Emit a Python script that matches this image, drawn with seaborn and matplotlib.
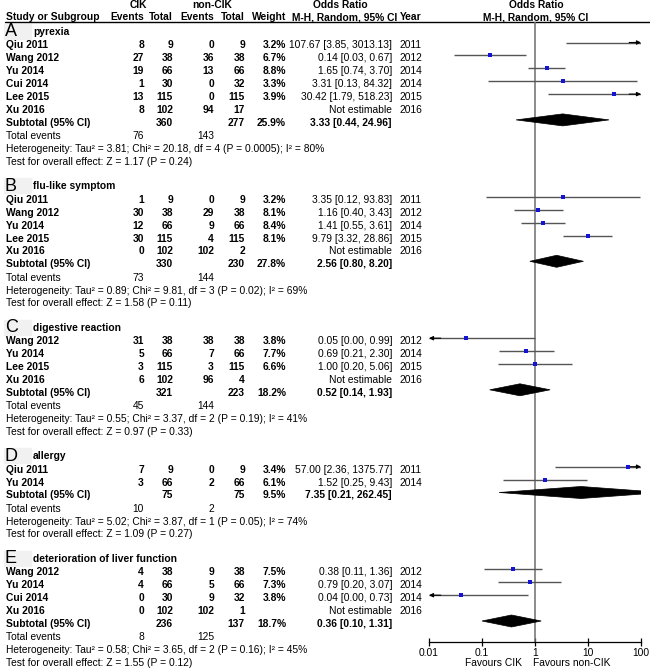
import matplotlib
matplotlib.use("Agg")
import matplotlib.pyplot as plt
from matplotlib.patches import Polygon, Rectangle
import pandas as pd
import seaborn as sns

# ---------------- data ----------------
letters = ["A", "B", "C", "D", "E"]
titles = ["pyrexia", "flu-like symptom", "digestive reaction", "allergy",
          "deterioration of liver function"]

A_study = ["Qiu 2011", "Wang 2012", "Yu 2014", "Cui 2014", "Lee 2015", "Xu 2016"]
A_ev1 = [8, 27, 19, 1, 13, 8]
A_tot1 = [9, 38, 66, 30, 115, 102]
A_ev2 = [0, 36, 13, 0, 0, 94]
A_tot2 = [9, 38, 66, 32, 115, 17]
A_weight = ["3.2%", "6.7%", "8.8%", "3.3%", "3.9%", ""]
A_or = [107.67, 0.14, 1.65, 3.31, 30.42, None]
A_lo = [3.85, 0.03, 0.74, 0.13, 1.79, None]
A_hi = [3013.13, 0.67, 3.70, 84.32, 518.23, None]
A_year = [2011, 2012, 2014, 2014, 2015, 2016]
A_sub = [360, 277, "25.9%", 3.33, 0.44, 24.96]
A_events = [76, 143]
A_het = "Heterogeneity: Tau\u00b2 = 3.81; Chi\u00b2 = 20.18, df = 4 (P = 0.0005); I\u00b2 = 80%"
A_test = "Test for overall effect: Z = 1.17 (P = 0.24)"

B_study = ["Qiu 2011", "Wang 2012", "Yu 2014", "Lee 2015", "Xu 2016"]
B_ev1 = [1, 30, 12, 30, 0]
B_tot1 = [9, 38, 66, 115, 102]
B_ev2 = [0, 29, 9, 4, 102]
B_tot2 = [9, 38, 66, 115, 2]
B_weight = ["3.2%", "8.1%", "8.4%", "8.1%", ""]
B_or = [3.35, 1.16, 1.41, 9.79, None]
B_lo = [0.12, 0.40, 0.55, 3.32, None]
B_hi = [93.83, 3.43, 3.61, 28.86, None]
B_year = [2011, 2012, 2014, 2015, 2016]
B_sub = [330, 230, "27.8%", 2.56, 0.80, 8.20]
B_events = [73, 144]
B_het = "Heterogeneity: Tau\u00b2 = 0.89; Chi\u00b2 = 9.81, df = 3 (P = 0.02); I\u00b2 = 69%"
B_test = "Test for overall effect: Z = 1.58 (P = 0.11)"

C_study = ["Wang 2012", "Yu 2014", "Lee 2015", "Xu 2016"]
C_ev1 = [31, 5, 3, 6]
C_tot1 = [38, 66, 115, 102]
C_ev2 = [38, 7, 3, 96]
C_tot2 = [38, 66, 115, 4]
C_weight = ["3.8%", "7.7%", "6.6%", ""]
C_or = [0.05, 0.69, 1.00, None]
C_lo = [0.00, 0.21, 0.20, None]
C_hi = [0.99, 2.30, 5.06, None]
C_year = [2012, 2014, 2015, 2016]
C_sub = [321, 223, "18.2%", 0.52, 0.14, 1.93]
C_events = [45, 144]
C_het = "Heterogeneity: Tau\u00b2 = 0.55; Chi\u00b2 = 3.37, df = 2 (P = 0.19); I\u00b2 = 41%"
C_test = "Test for overall effect: Z = 0.97 (P = 0.33)"

D_study = ["Qiu 2011", "Yu 2014"]
D_ev1 = [7, 3]
D_tot1 = [9, 66]
D_ev2 = [0, 2]
D_tot2 = [9, 66]
D_weight = ["3.4%", "6.1%"]
D_or = [57.00, 1.52]
D_lo = [2.36, 0.25]
D_hi = [1375.77, 9.43]
D_year = [2011, 2014]
D_sub = [75, 75, "9.5%", 7.35, 0.21, 262.45]
D_events = [10, 2]
D_het = "Heterogeneity: Tau\u00b2 = 5.02; Chi\u00b2 = 3.87, df = 1 (P = 0.05); I\u00b2 = 74%"
D_test = "Test for overall effect: Z = 1.09 (P = 0.27)"

E_study = ["Wang 2012", "Yu 2014", "Cui 2014", "Xu 2016"]
E_ev1 = [4, 4, 0, 0]
E_tot1 = [38, 66, 30, 102]
E_ev2 = [9, 5, 9, 102]
E_tot2 = [38, 66, 32, 1]
E_weight = ["7.5%", "7.3%", "3.8%", ""]
E_or = [0.38, 0.79, 0.04, None]
E_lo = [0.11, 0.20, 0.00, None]
E_hi = [1.36, 3.07, 0.73, None]
E_year = [2012, 2014, 2014, 2016]
E_sub = [236, 137, "18.7%", 0.36, 0.10, 1.31]
E_events = [8, 125]
E_het = "Heterogeneity: Tau\u00b2 = 0.58; Chi\u00b2 = 3.65, df = 2 (P = 0.16); I\u00b2 = 45%"
E_test = "Test for overall effect: Z = 1.55 (P = 0.12)"

tick_values = [0.01, 0.1, 1, 10, 100]
tick_labels = ["0.01", "0.1", "1", "10", "100"]

sections = []
for L, t, g in zip(letters, titles,
                   [(A_study, A_ev1, A_tot1, A_ev2, A_tot2, A_weight, A_or, A_lo, A_hi, A_year, A_sub, A_events, A_het, A_test),
                    (B_study, B_ev1, B_tot1, B_ev2, B_tot2, B_weight, B_or, B_lo, B_hi, B_year, B_sub, B_events, B_het, B_test),
                    (C_study, C_ev1, C_tot1, C_ev2, C_tot2, C_weight, C_or, C_lo, C_hi, C_year, C_sub, C_events, C_het, C_test),
                    (D_study, D_ev1, D_tot1, D_ev2, D_tot2, D_weight, D_or, D_lo, D_hi, D_year, D_sub, D_events, D_het, D_test),
                    (E_study, E_ev1, E_tot1, E_ev2, E_tot2, E_weight, E_or, E_lo, E_hi, E_year, E_sub, E_events, E_het, E_test)]):
    keys = ["study", "ev1", "tot1", "ev2", "tot2", "weight", "or", "lo", "hi", "year", "sub", "events", "het", "test"]
    d = dict(zip(keys, g))
    d["letter"] = L
    d["title"] = t
    sections.append(d)

# ---------------- style ----------------
sns.set_theme(style="white")
plt.rcParams["font.family"] = ["Liberation Sans", "DejaVu Sans"]
FS = 7.4
W, H = 650, 671

fig = plt.figure(figsize=(6.5, 6.71), dpi=100)
tab = fig.add_axes([0, 0, 1, 1])
tab.set_xlim(0, W)
tab.set_ylim(H, 0)
tab.axis("off")

# forest axes (x: log OR, y: same pixel rows as table)
FX0, FX1, FY0, FY1 = 429, 641, 22, 642
fa = fig.add_axes([FX0 / W, (H - FY1) / H, (FX1 - FX0) / W, (FY1 - FY0) / H])
fa.set_xscale("log")
fa.set_xlim(0.01, 100)
fa.set_ylim(FY1, FY0)
fa.patch.set_alpha(0)
for s in ["top", "left", "right"]:
    fa.spines[s].set_visible(False)
fa.spines["bottom"].set_color("black")
fa.spines["bottom"].set_linewidth(0.9)
fa.set_xticks(tick_values)
fa.set_xticklabels(tick_labels, fontsize=FS)
fa.minorticks_off()
fa.tick_params(axis="x", direction="inout", length=6, width=0.9, pad=1.5, colors="black", bottom=True)
fa.set_yticks([])
fa.axvline(1, color="#6e6e6e", lw=1.1, zorder=1)


def txt(x, y, s, ha="left", bold=False, size=FS, **kw):
    tab.text(x, y, s, ha=ha, va="center", fontsize=size,
             fontweight="bold" if bold else "normal", color="black", **kw)


# headers
txt(138, 5, "CIK", ha="center", bold=True)
txt(212, 5, "non-CIK", ha="center", bold=True)
txt(340, 5, "Odds Ratio", ha="center", bold=True)
txt(536, 5, "Odds Ratio", ha="center", bold=True)
txt(6, 17, "Study or Subgroup", bold=True)
txt(144, 17, "Events", ha="right", bold=True)
txt(173, 17, "Total", ha="right", bold=True)
txt(214, 17, "Events", ha="right", bold=True)
txt(245, 17, "Total", ha="right", bold=True)
txt(286, 17, "Weight", ha="right", bold=True)
txt(397, 17, "M-H, Random, 95% CI", ha="right", bold=True)
txt(400, 17, "Year", bold=True)
txt(536, 17, "M-H, Random, 95% CI", ha="center", bold=True)
tab.plot([5, W], [22, 22], color="black", lw=1.0)

LINE_C = "#555555"
pts = []
y = 32.0
OFF = -3
for sec in sections:
    # section title
    tab.add_patch(Rectangle((4, y - 8), 27, 15, color="#f1f1f1", zorder=0))
    txt(5, y, sec["letter"], size=13)
    txt(33, y, sec["title"], bold=True)
    y += 13.5
    for i, name in enumerate(sec["study"]):
        txt(6, y, name, bold=True)
        txt(144, y, str(sec["ev1"][i]), ha="right", bold=True)
        txt(173, y, str(sec["tot1"][i]), ha="right", bold=True)
        txt(214, y, str(sec["ev2"][i]), ha="right", bold=True)
        txt(245, y, str(sec["tot2"][i]), ha="right", bold=True)
        txt(286, y, sec["weight"][i], ha="right", bold=True)
        o, lo, hi = sec["or"][i], sec["lo"][i], sec["hi"][i]
        if o is None:
            txt(392, y, "Not estimable", ha="right")
        else:
            txt(392, y, f"{o:.2f} [{lo:.2f}, {hi:.2f}]", ha="right")
            fy = y + OFF
            lo_c, hi_c = max(lo, 0.01), min(hi, 100)
            fa.plot([lo_c, hi_c], [fy, fy], color=LINE_C, lw=1.0, solid_capstyle="butt", zorder=2)
            if hi > 100:
                fa.annotate("", xy=(100, fy), xytext=(60, fy),
                            arrowprops=dict(arrowstyle="-|>", color="black", lw=0.8,
                                            mutation_scale=6, shrinkA=0, shrinkB=0))
            if lo < 0.01:
                fa.annotate("", xy=(0.01, fy), xytext=(0.0167, fy),
                            arrowprops=dict(arrowstyle="-|>", color="black", lw=0.8,
                                            mutation_scale=6, shrinkA=0, shrinkB=0))
            if 0.01 <= o <= 100:
                pts.append({"or": o, "y": fy})
        txt(400, y, str(sec["year"][i]))
        y += 12.9
    # subtotal
    s1, s2, sw, so, slo, shi = sec["sub"]
    txt(6, y, "Subtotal (95% CI)", bold=True)
    txt(173, y, str(s1), ha="right", bold=True)
    txt(245, y, str(s2), ha="right", bold=True)
    txt(286, y, sw, ha="right", bold=True)
    txt(392, y, f"{so:.2f} [{slo:.2f}, {shi:.2f}]", ha="right", bold=True)
    fy = y + OFF
    fa.add_patch(Polygon([(slo, fy), (so, fy - 6), (shi, fy), (so, fy + 6)],
                         closed=True, facecolor="black", edgecolor="black", lw=0.5,
                         zorder=3, clip_on=True))
    y += 13.5
    txt(6, y, "Total events")
    txt(144, y, str(sec["events"][0]), ha="right")
    txt(214, y, str(sec["events"][1]), ha="right")
    y += 12.7
    txt(6, y, sec["het"])
    y += 12.7
    txt(6, y, sec["test"])
    y += 24.5

pts_df = pd.DataFrame(pts)
sns.scatterplot(data=pts_df, x="or", y="y", ax=fa, marker="s", s=7, color="#1414d2",
                linewidth=0, zorder=4, legend=False)
fa.set_xlabel("")
fa.set_ylabel("")
fa.set_xlim(0.01, 100)
fa.set_ylim(FY1, FY0)

txt(522, 663, "Favours CIK", ha="right")
txt(533, 663, "Favours non-CIK", ha="left")

fig.savefig("out.png", dpi=100)
